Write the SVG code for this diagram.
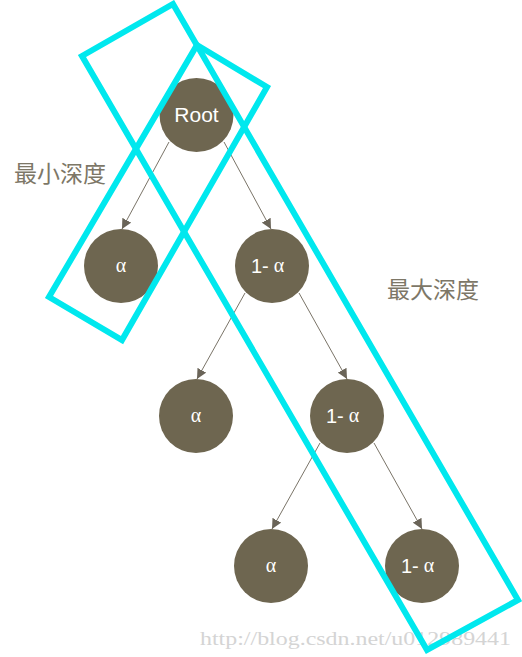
<svg xmlns="http://www.w3.org/2000/svg" width="522" height="657" viewBox="0 0 522 657">
<style>
.node circle{fill:#6e6650}
.lbl{font-family:"Liberation Sans","Noto Sans",sans-serif;fill:#ffffff}
.alpha{font-family:"Liberation Serif","DejaVu Serif",serif;fill:#ffffff}
.cap{font-family:"Noto Sans CJK SC","Noto Sans CJK JP",sans-serif;font-size:23px;fill:#7d7767}
.edge{stroke:#7a7468;stroke-width:1;fill:none;marker-end:url(#ah)}
.box{fill:none;stroke:#00e8ee;stroke-width:6;stroke-linejoin:miter}
</style>
<defs>
<marker id="ah" viewBox="0 0 10 10" refX="10" refY="5" markerWidth="10" markerHeight="10" markerUnits="userSpaceOnUse" orient="auto">
<path d="M0,0 L10,5 L0,10 z" fill="#6a6458"/>
</marker>
</defs>
<rect width="522" height="657" fill="#ffffff"/>
<g id="connectors">
<line class="edge" x1="169" y1="142" x2="122" y2="229"/>
<line class="edge" x1="224" y1="142" x2="271" y2="229"/>
<line class="edge" x1="245" y1="293" x2="197" y2="379"/>
<line class="edge" x1="299" y1="293" x2="347" y2="379"/>
<line class="edge" x1="320" y1="443" x2="272" y2="529"/>
<line class="edge" x1="374" y1="443" x2="422" y2="529"/>
</g>
<g id="root" class="node"><circle cx="196.5" cy="115" r="37"/><text class="lbl" x="196.5" y="122" font-size="21" text-anchor="middle">Root</text></g>
<g id="n-a1" class="node"><circle cx="121" cy="266" r="37"/><text class="alpha" x="121" y="272" font-size="20" text-anchor="middle">α</text></g>
<g id="n-b1" class="node"><circle cx="272" cy="266" r="37"/><text x="251" y="273"><tspan class="lbl" font-size="20">1-</tspan><tspan class="alpha" font-size="20" dx="5" dy="-1">α</tspan></text></g>
<g id="n-a2" class="node"><circle cx="196" cy="416" r="37"/><text class="alpha" x="196" y="422" font-size="20" text-anchor="middle">α</text></g>
<g id="n-b2" class="node"><circle cx="347" cy="416" r="37"/><text x="326" y="423"><tspan class="lbl" font-size="20">1-</tspan><tspan class="alpha" font-size="20" dx="5" dy="-1">α</tspan></text></g>
<g id="n-a3" class="node"><circle cx="271" cy="566" r="37"/><text class="alpha" x="271" y="572" font-size="20" text-anchor="middle">α</text></g>
<g id="n-b3" class="node"><circle cx="422" cy="566" r="37"/><text x="401" y="573"><tspan class="lbl" font-size="20">1-</tspan><tspan class="alpha" font-size="20" dx="5" dy="-1">α</tspan></text></g>
<text x="200" y="645" font-family="Liberation Serif,serif" font-size="19" fill="#d4d4d4" textLength="311" lengthAdjust="spacingAndGlyphs">http://blog.csdn.net/u012989441</text>
<g id="min-depth"><polygon class="box" points="197,45 267,87 122,340 49,297"/><text class="cap" x="14" y="182">最小深度</text></g>
<g id="max-depth"><polygon class="box" points="82,56 173,4 518,600 427,650"/><text class="cap" x="387" y="298">最大深度</text></g>
</svg>
